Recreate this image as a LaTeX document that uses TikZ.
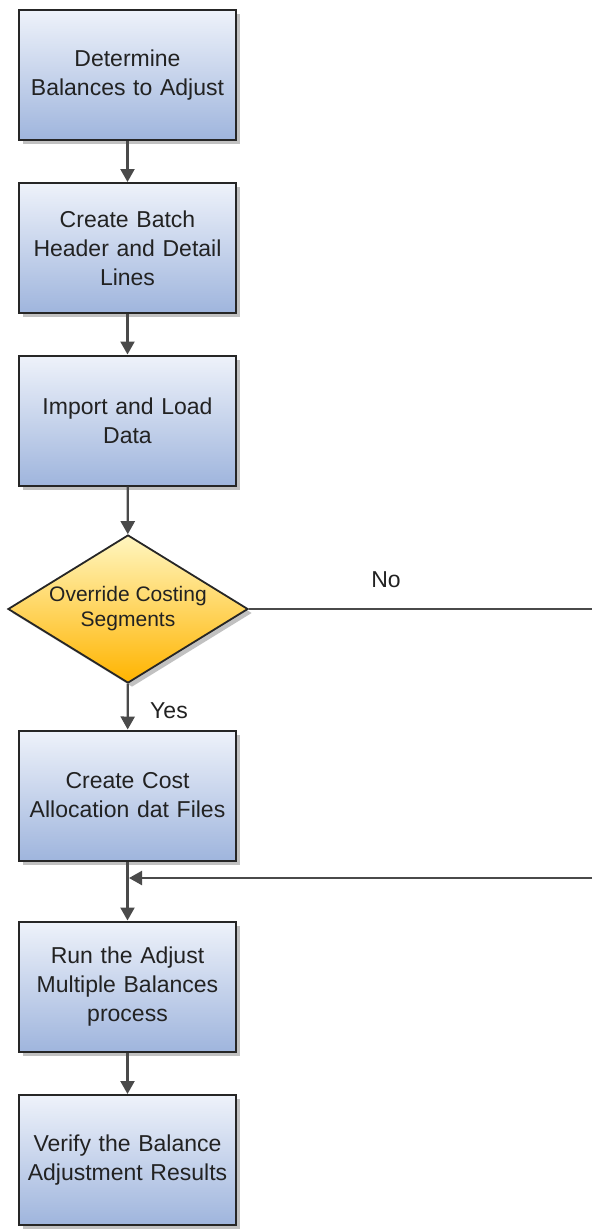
\documentclass[tikz,border=0pt]{standalone}
\usepackage{fontspec}
\setmainfont{Liberation Sans}
\usetikzlibrary{arrows.meta,shapes.geometric,shadows}
\definecolor{boxtop}{HTML}{EEF2FA}
\definecolor{boxbot}{HTML}{9FB5DD}
\definecolor{dtop}{HTML}{FFF6C0}
\definecolor{dbot}{HTML}{FFB400}
\definecolor{linec}{HTML}{4A4A4A}
\definecolor{txt}{HTML}{222222}
\tikzset{
  stepbox/.style={draw=black!85, line width=2pt, minimum width=217pt, minimum height=130pt,
    top color=boxtop, bottom color=boxbot, text width=200pt, align=center,
    font=\fontsize{23}{29}\selectfont, text=txt,
    drop shadow={shadow xshift=4pt, shadow yshift=-4pt, fill=black!30, opacity=0.8}},
  decision/.style={diamond, draw=black!85, line width=1.8pt, inner sep=0pt, shape aspect=1.62,
    minimum width=240pt, minimum height=148pt, top color=dtop, bottom color=dbot,
    align=center, font=\fontsize{21}{25}\selectfont, text=txt,
    drop shadow={shadow xshift=4pt, shadow yshift=-4pt, fill=black!30, opacity=0.8}},
  flow/.style={draw=linec, line width=2.2pt, -{Triangle[length=13pt,width=14pt]}},
  plain/.style={draw=linec, line width=2.2pt},
  lbl/.style={font=\fontsize{23}{29}\selectfont, text=txt}
}
\begin{document}
\begin{tikzpicture}[x=1pt,y=-1pt]
\useasboundingbox (0,0) rectangle (592,1229);
\node[stepbox] (b1) at (127.5,75) {Determine\\Balances to Adjust};
\node[stepbox] (b2) at (127.5,248) {Create Batch\\Header and Detail\\Lines};
\node[stepbox] (b3) at (127.5,420.5) {Import and Load\\Data};
\node[decision] (d) at (128,609) {Override Costing\\Segments};
\node[stepbox] (b4) at (127.5,795.5) {Create Cost\\Allocation dat Files};
\node[stepbox] (b5) at (127.5,986.5) {Run the Adjust\\Multiple Balances\\process};
\node[stepbox] (b6) at (127.5,1160) {Verify the Balance\\Adjustment Results};
\coordinate (noend) at (592,609);
\coordinate (back) at (592,878);
\coordinate (j) at (127.5,878);
\draw[flow] (b1) -- (b2);
\draw[flow] (b2) -- (b3);
\draw[flow] (b3) -- (d);
\draw[flow] (d) -- (b4);
\draw[plain] (d.east) -- (noend);
\draw[flow] (b4) -- (b5);
\draw[flow] (back) -- ([xshift=1.5pt]j);
\draw[flow] (b5) -- (b6);
\node[lbl] (yes) at (169,711) {Yes};
\node[lbl] (no) at (386,580) {No};
\end{tikzpicture}
\end{document}
